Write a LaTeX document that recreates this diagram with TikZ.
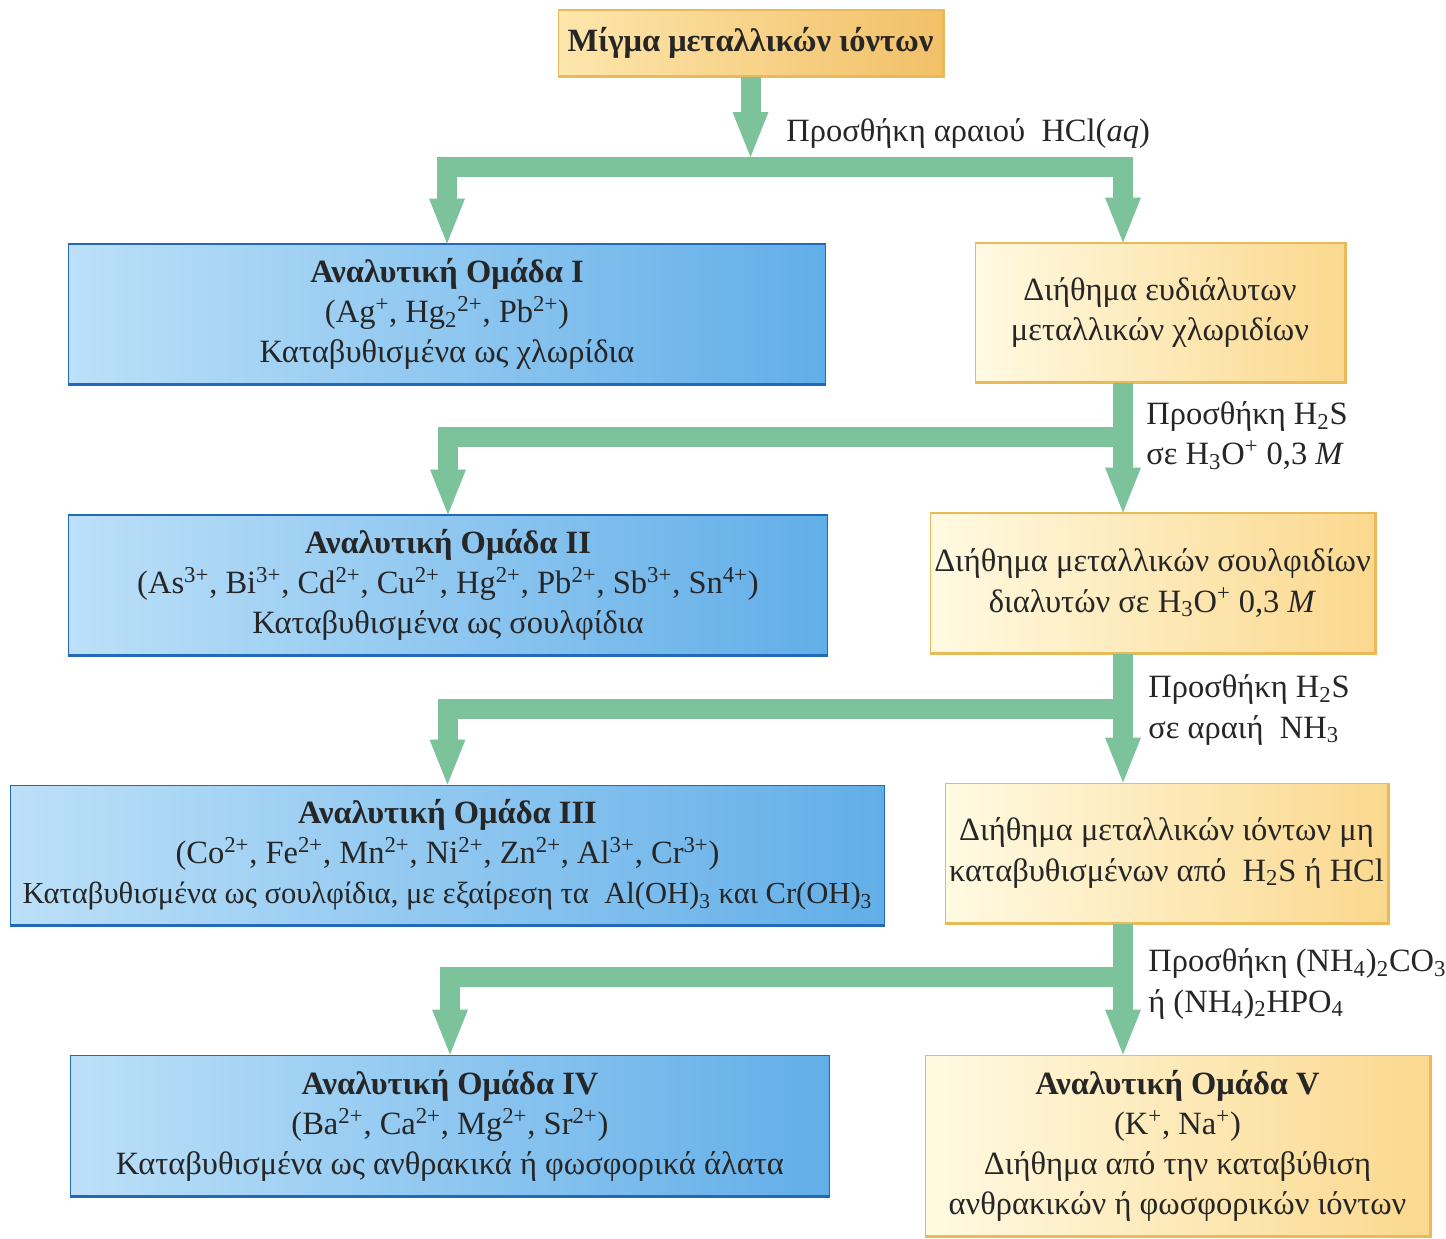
\documentclass[tikz,border=0pt]{standalone}
\usepackage{fontspec}
\setmainfont{Liberation Serif}
\usetikzlibrary{arrows.meta,positioning}

\definecolor{flowgreen}{RGB}{124,194,154}
\definecolor{blueL}{RGB}{188,224,248}
\definecolor{blueR}{RGB}{98,174,232}
\definecolor{blueedge}{RGB}{35,105,185}
\definecolor{creamL}{RGB}{255,250,226}
\definecolor{creamR}{RGB}{251,216,142}
\definecolor{goldedge}{RGB}{232,186,88}
\definecolor{peachL}{RGB}{253,230,172}
\definecolor{peachR}{RGB}{242,192,104}
\definecolor{inkgray}{RGB}{38,38,38}

\newcommand{\chup}[1]{\textsuperscript{#1}}
\newcommand{\chdn}[1]{\textsubscript{#1}}

\tikzset{ftip/.tip={Triangle[width=0.72cm, length=0.9cm, line width=0pt]}}

\begin{document}
\begin{tikzpicture}[x=0.02cm, y=-0.02cm, font=\fontsize{18.5}{22.8}\selectfont, text=inkgray,
  group/.style={draw=blueedge, line width=0.6pt, left color=blueL, right color=blueR, align=center, inner sep=0pt},
  sol/.style={draw=goldedge, line width=0.6pt, left color=creamL, right color=creamR, align=center, inner sep=0pt},
  start/.style={draw=goldedge, line width=0.6pt, left color=peachL, right color=peachR, align=center, inner sep=0pt},
  flow/.style={draw=flowgreen, line width=0.4cm, -ftip},
  reagent/.style={anchor=west, align=left, inner sep=0pt}]

  \path[use as bounding box, fill=white] (0,0) rectangle (1446,1238);

  % starting mixture
  \node[start, minimum width=7.7cm, minimum height=1.32cm] (mix) at (750.5,43) {\textbf{Μίγμα μεταλλικών ιόντων}};

  % precipitated groups (left column)
  \node[group, minimum width=15.16cm, minimum height=2.8cm] (grpI) at (447,314)
    {\textbf{Αναλυτική Ομάδα I}\\(Ag\chup{+}, Hg\chdn{2}\chup{2+}, Pb\chup{2+})\\Καταβυθισμένα ως χλωρίδια};
  \node[group, minimum width=15.2cm, minimum height=2.8cm] (grpII) at (448,585)
    {\textbf{Αναλυτική Ομάδα II}\\(As\chup{3+}, Bi\chup{3+}, Cd\chup{2+}, Cu\chup{2+}, Hg\chup{2+}, Pb\chup{2+}, Sb\chup{3+}, Sn\chup{4+})\\Καταβυθισμένα ως σουλφίδια};
  \node[group, minimum width=17.5cm, minimum height=2.8cm] (grpIII) at (447.5,855)
    {\textbf{Αναλυτική Ομάδα III}\\(Co\chup{2+}, Fe\chup{2+}, Mn\chup{2+}, Ni\chup{2+}, Zn\chup{2+}, Al\chup{3+}, Cr\chup{3+})\\{\fontsize{17.4}{22.8}\selectfont Καταβυθισμένα ως σουλφίδια, με εξαίρεση τα\ \ Al(OH)\chdn{3} και Cr(OH)\chdn{3}}};
  \node[group, minimum width=15.2cm, minimum height=2.82cm] (grpIV) at (450,1125.5)
    {\textbf{Αναλυτική Ομάδα IV}\\(Ba\chup{2+}, Ca\chup{2+}, Mg\chup{2+}, Sr\chup{2+})\\Καταβυθισμένα ως ανθρακικά ή φωσφορικά άλατα};

  % filtrates (right column)
  \node[sol, minimum width=7.4cm, minimum height=2.78cm] (solI) at (1160,312.5)
    {Διήθημα ευδιάλυτων\\μεταλλικών χλωριδίων};
  \node[sol, minimum width=8.9cm, minimum height=2.8cm] (solII) at (1152.5,583)
    {Διήθημα μεταλλικών σουλφιδίων\\διαλυτών σε H\chdn{3}O\chup{+} 0,3 \textit{M}};
  \node[sol, minimum width=8.86cm, minimum height=2.8cm] (solIII) at (1166.5,853)
    {Διήθημα μεταλλικών ιόντων μη\\καταβυθισμένων από\ \ H\chdn{2}S ή HCl};
  \node[sol, minimum width=10.1cm, minimum height=3.62cm] (grpV) at (1177.5,1145.5)
    {\textbf{Αναλυτική Ομάδα V}\\(K\chup{+}, Na\chup{+})\\Διήθημα από την καταβύθιση\\ανθρακικών ή φωσφορικών ιόντων};

  % heavier lower edges
  \foreach \n in {grpI,grpII,grpIII,grpIV}
    \draw[blueedge, line width=1.6pt] (\n.south west) -- (\n.south east);
  \foreach \n in {mix,solI,solII,solIII,grpV}
    \draw[goldedge, line width=1.6pt] (\n.south west) -- (\n.south east) -- (\n.north east);

  % trunk and forks
  \coordinate (trunk) at (1123,0);
  \coordinate (fork0) at (0,157);
  \coordinate (fork1) at (750,167);
  \coordinate (fork2) at (0,437);
  \coordinate (fork3) at (0,709);
  \coordinate (fork4) at (0,977);

  \draw[flow] (mix.south) -- (mix.south |- fork0);
  \draw[flow, ftip-ftip] (grpI.north) |- (fork1) -| (solI.north -| trunk);

  \draw[flow] (solI.south -| trunk) -- (solII.north -| trunk);
  \draw[flow] (trunk |- fork2) -| (grpII.north);

  \draw[flow] (solII.south -| trunk) -- (solIII.north -| trunk);
  \draw[flow] (trunk |- fork3) -| (grpIII.north);

  \draw[flow] (solIII.south -| trunk) -- (grpV.north -| trunk);
  \draw[flow] (trunk |- fork4) -| (grpIV.north);

  % reagents
  \node[reagent] (hcl) at (786,133) {Προσθήκη αραιού\ \ HCl(\textit{aq})};
  \node[reagent] (h2sacid) at (1146,436) {Προσθήκη H\chdn{2}S\\σε H\chdn{3}O\chup{+} 0,3 \textit{M}};
  \node[reagent] (h2sbase) at (1148,710) {Προσθήκη H\chdn{2}S\\σε αραιή\ \ NH\chdn{3}};
  \node[reagent] (carb) at (1148,984) {Προσθήκη (NH\chdn{4})\chdn{2}CO\chdn{3}\\ή (NH\chdn{4})\chdn{2}HPO\chdn{4}};
\end{tikzpicture}
\end{document}
